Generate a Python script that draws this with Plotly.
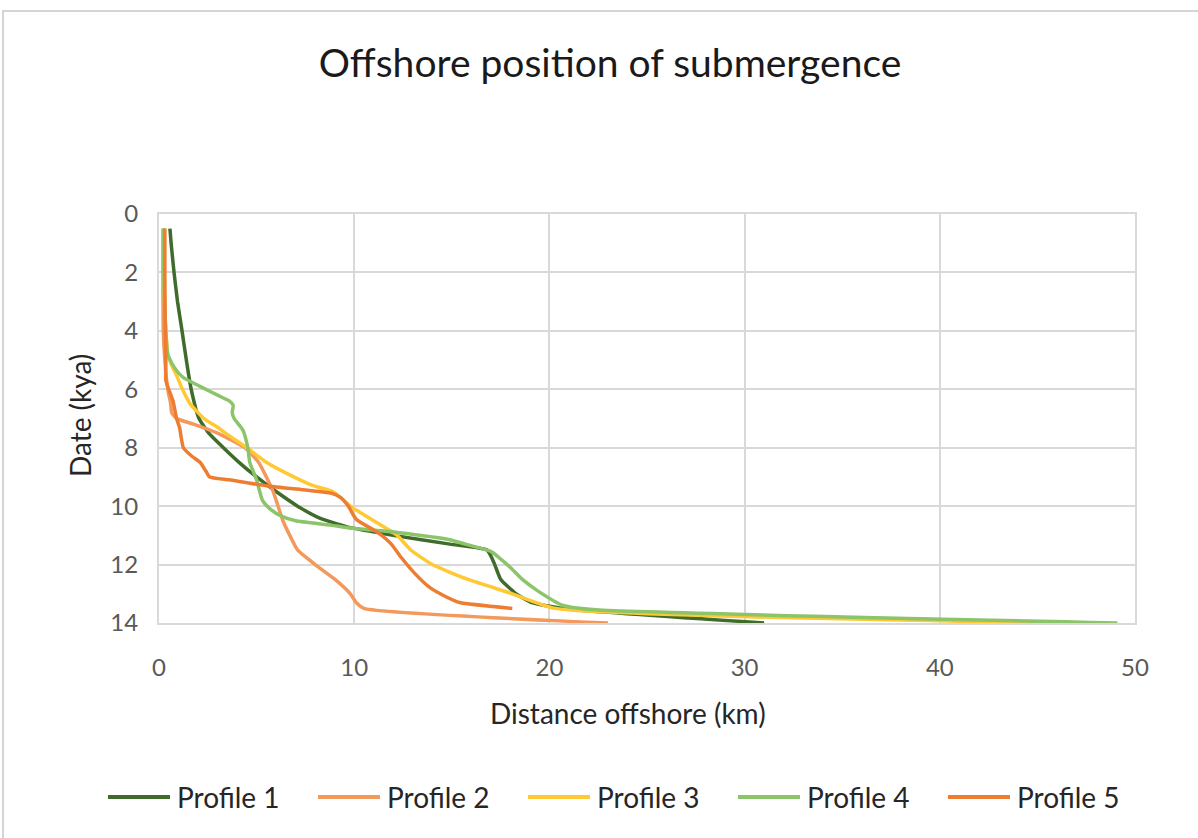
import plotly.graph_objects as go

# Distance offshore (km) against date (kya) for each profile
p1_date = [0.5, 1.0, 2.0, 3.0, 4.0, 5.0, 6.0, 7.0, 7.5, 8.0, 8.5, 9.0, 9.5, 10.0, 10.4, 10.7,
           11.0, 11.3, 11.5, 11.7, 12.0, 12.5, 13.0, 13.3, 13.5, 14.0]
p1_dist = [0.56, 0.62, 0.77, 0.95, 1.18, 1.4, 1.65, 2.05, 2.55, 3.3, 4.1, 5.0, 6.0, 7.1, 8.2, 9.6,
           12.0, 14.9, 16.8, 17.0, 17.2, 17.5, 18.3, 19.1, 20.7, 31.0]

p2_date = [0.5, 2.0, 4.0, 5.0, 6.0, 6.5, 6.8, 7.0, 7.2, 7.5, 8.0, 8.5, 9.0, 9.5, 10.0, 10.5,
           11.0, 11.5, 12.0, 12.5, 13.0, 13.3, 13.5, 14.0]
p2_dist = [0.2, 0.2, 0.22, 0.3, 0.45, 0.6, 0.65, 0.9, 1.8, 3.0, 4.4, 5.1, 5.5, 5.85, 6.1, 6.35,
           6.7, 7.1, 8.0, 9.0, 9.8, 10.1, 10.5, 23.0]

p3_date = [0.5, 2.0, 4.0, 4.8, 5.1, 5.6, 6.0, 6.5, 7.0, 7.3, 7.5, 8.0, 8.5, 9.0, 9.3, 9.5, 10.0,
           10.5, 11.0, 11.5, 12.0, 12.5, 13.0, 13.5, 14.0]
p3_dist = [0.25, 0.25, 0.35, 0.45, 0.6, 0.95, 1.2, 1.6, 2.3, 3.0, 3.4, 4.5, 5.5, 6.9, 7.9, 8.9, 9.8,
           11.0, 12.2, 12.9, 14.0, 15.8, 18.1, 20.3, 46.0]

p4_date = [0.5, 2.0, 4.0, 4.8, 5.1, 5.4, 5.6, 5.9, 6.2, 6.4, 6.55, 6.8, 7.0, 7.4, 8.0, 8.5, 9.1,
           9.8, 10.1, 10.35, 10.5, 10.65, 10.75, 10.9, 11.15, 11.3, 11.55, 11.75, 12.1, 12.5,
           12.9, 13.4, 13.55, 14.0]
p4_dist = [0.25, 0.25, 0.35, 0.45, 0.65, 0.95, 1.25, 2.1, 3.0, 3.6, 3.8, 3.75, 3.85, 4.3, 4.55,
           4.65, 5.0, 5.3, 5.7, 6.3, 7.0, 8.8, 9.8, 12.2, 14.9, 15.7, 17.0, 17.4, 18.0, 18.6,
           19.4, 20.7, 22.4, 49.1]

p5_date = [0.5, 2.0, 4.0, 5.0, 5.7, 6.0, 6.4, 7.0, 7.3, 8.0, 8.3, 8.5, 8.8, 9.0, 9.1, 9.3, 9.45,
           9.55, 9.7, 10.0, 10.45, 10.9, 11.3, 11.75, 12.3, 12.8, 13.1, 13.3, 13.5]
p5_dist = [0.3, 0.3, 0.32, 0.35, 0.35, 0.5, 0.72, 0.9, 1.05, 1.25, 1.7, 2.1, 2.4, 2.6, 3.6, 5.5,
           7.5, 8.8, 9.3, 9.7, 10.1, 11.2, 11.9, 12.4, 13.1, 13.9, 14.7, 15.4, 18.1]

names = ["Profile 1", "Profile 2", "Profile 3", "Profile 4", "Profile 5"]
colors = ["#3F6B2B", "#F3995B", "#FFC933", "#8CC46A", "#ED7D31"]
series = [(p1_dist, p1_date), (p2_dist, p2_date), (p3_dist, p3_date),
          (p4_dist, p4_date), (p5_dist, p5_date)]

x_ticks = [0, 10, 20, 30, 40, 50]
y_ticks = [0, 2, 4, 6, 8, 10, 12, 14]

W, H = 1198, 838
L, R, T, B = 159, 63, 214, 215
pw, ph = W - L - R, H - T - B


def px_x(p):
    return (p - L) / pw


def px_y(p):
    return (H - B - p) / ph


FONT = "Lato"
fig = go.Figure()
for (xs, ys), name, col in zip(series, names, colors):
    fig.add_trace(go.Scatter(
        x=xs, y=ys, name=name, mode="lines", showlegend=False,
        line=dict(color=col, width=3.5, shape="spline", smoothing=0.5),
    ))

axis_common = dict(
    showgrid=True, gridcolor="#D9D9D9", gridwidth=2,
    showline=True, linecolor="#D9D9D9", linewidth=2, mirror=True,
    zeroline=False, ticks="",
    tickfont=dict(family=FONT, size=24, color="#595959"),
)
fig.update_xaxes(range=[0, 50], tickvals=x_ticks, ticklabelstandoff=22, **axis_common)
fig.update_yaxes(range=[14, 0], tickvals=y_ticks, ticklabelstandoff=14, **axis_common)

# Legend row below the plot: a short line swatch followed by the series name
legend_x0 = 108
legend_pitch = 210
legend_y = 797
shapes = [
    dict(type="path", xref="paper", yref="paper",
         path=f"M {px_x(3)},{px_y(900)} L {px_x(3)},{px_y(11)} L {px_x(1300)},{px_y(11)}",
         line=dict(color="#C8C8C8", width=1.5), layer="below"),
]
annotations = [
    dict(text="Distance offshore (km)", xref="paper", yref="paper",
         x=px_x(628), y=px_y(713), xanchor="center", yanchor="middle", showarrow=False,
         font=dict(family=FONT, size=28, color="#262626")),
    dict(text="Date (kya)", xref="paper", yref="paper", textangle=-90,
         x=px_x(80), y=px_y(416), xanchor="center", yanchor="middle", showarrow=False,
         font=dict(family=FONT, size=28, color="#262626")),
]
for i, (name, col) in enumerate(zip(names, colors)):
    sx = legend_x0 + i * legend_pitch
    shapes.append(dict(type="line", xref="paper", yref="paper",
                       x0=px_x(sx), x1=px_x(sx + 62), y0=px_y(legend_y), y1=px_y(legend_y),
                       line=dict(color=col, width=4)))
    annotations.append(dict(text=name, xref="paper", yref="paper",
                            x=px_x(sx + 67), y=px_y(legend_y), xanchor="left", yanchor="middle",
                            showarrow=False,
                            font=dict(family=FONT, size=28, color="#262626")))

fig.update_layout(
    width=W, height=H,
    margin=dict(l=L, r=R, t=T, b=B),
    paper_bgcolor="white", plot_bgcolor="white",
    title=dict(text="Offshore position of submergence", xref="container", yref="container",
               x=610 / W, y=1 - 63 / H, xanchor="center", yanchor="middle",
               font=dict(family=FONT, size=39, color="#1A1A1A")),
    showlegend=False,
    annotations=annotations,
    shapes=shapes,
)

fig.write_html("out.html")
